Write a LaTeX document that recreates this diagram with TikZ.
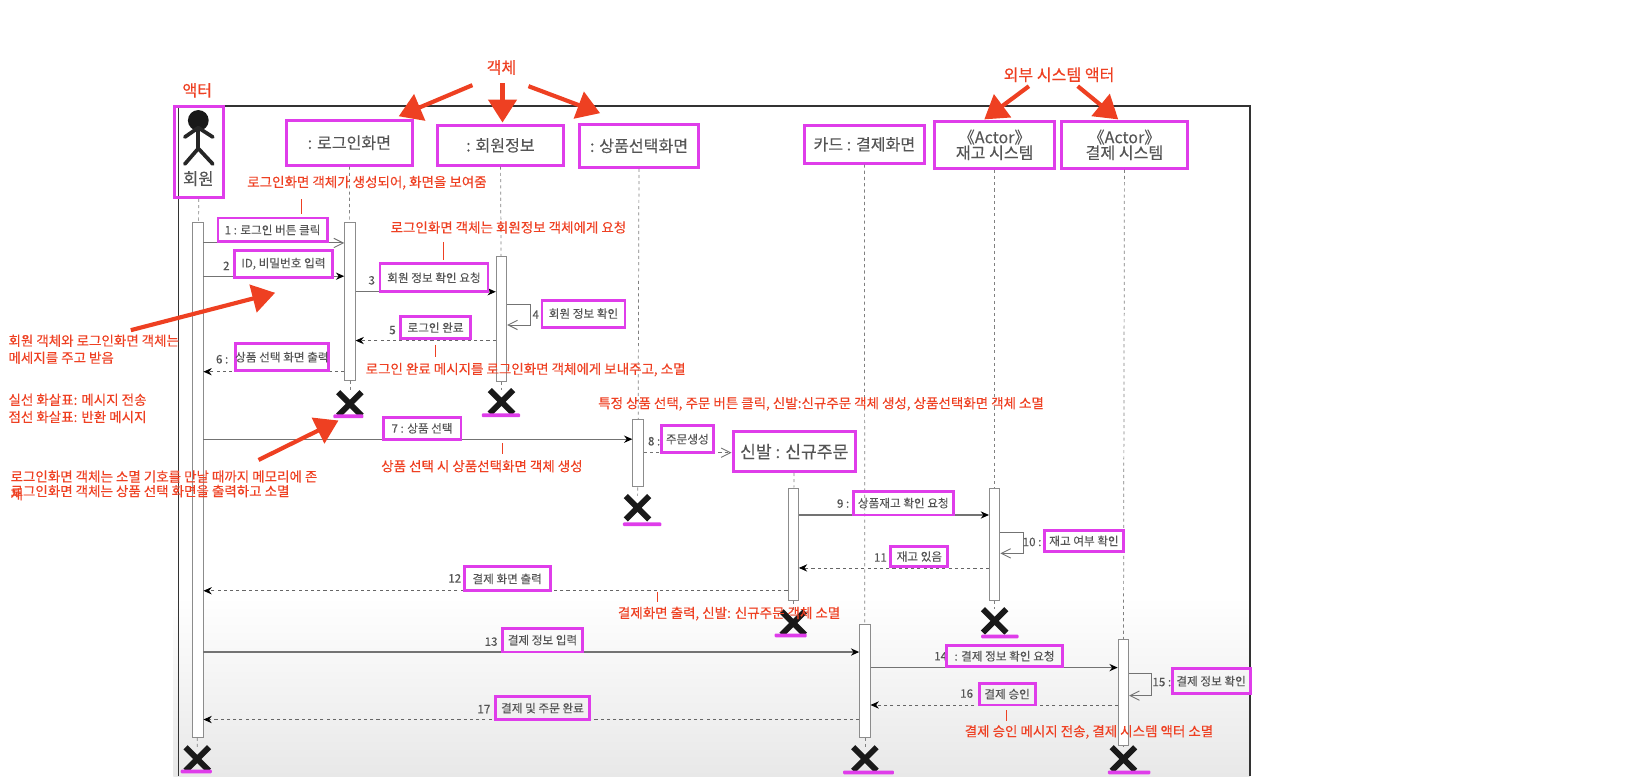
\documentclass[tikz,border=0pt]{standalone}
\usepackage{fontspec}
\usepackage{xcolor}
\usetikzlibrary{positioning, arrows.meta, shapes.misc}
\setmainfont{Noto Sans CJK KR}
\newfontfamily\redfont[FakeBold=0.25]{Noto Sans CJK KR}
\newfontfamily\umlfont[FakeBold=0.12]{Noto Sans CJK KR}

\definecolor{boxpink}{HTML}{DF3DEA}
\definecolor{notered}{HTML}{EE4022}
\definecolor{umlgray}{HTML}{555555}

\tikzset{
    headbox/.style={draw=boxpink, line width=2.9pt, text=umlgray, font=\umlfont\fontsize{15.5}{17}\selectfont, align=center, inner sep=0pt},
    msgbox/.style={draw=boxpink, line width=2.8pt, text=umlgray, font=\umlfont\fontsize{11.2}{13}\selectfont, inner sep=0pt},
    msgnum/.style={text=umlgray, font=\umlfont\fontsize{11.2}{13}\selectfont, inner sep=0pt},
    lifebar/.style={draw=black!45, fill=white, line width=.9pt, minimum width=10pt, inner sep=0pt},
    lifeline/.style={draw=black!50, dashed, line width=.7pt},
    msg/.style={draw=black!55, line width=1.1pt, -{Stealth[length=8pt,width=7pt,black]}},
    openmsg/.style={draw=black!55, line width=.9pt, -{Straight Barb[length=9pt,width=9pt]}},
    retmsg/.style={draw=black!60, dashed, line width=.8pt, -{Stealth[length=8pt,width=7pt,black]}},
    destroy/.style={cross out, draw=black!90, line width=5.6pt, minimum size=17pt, inner sep=0pt},
    killbar/.style={fill=boxpink, rounded corners=1pt, minimum height=3.6pt, inner sep=0pt},
    rednote/.style={text=notered, font=\redfont\fontsize{13}{16.5}\selectfont, inner sep=0pt, align=left},
    redtitle/.style={text=notered, font=\redfont\fontsize{15.5}{18}\selectfont, inner sep=0pt},
    redarrow/.style={draw=notered, line width=4pt, -{Triangle[length=22pt,width=27pt]}},
    redtick/.style={draw=notered, line width=.7pt},
    stick/.style={draw=black!85, line width=3.6pt, line cap=round, line join=round}
}

\begin{document}
\begin{tikzpicture}[x=1pt, y=-1pt]
    \useasboundingbox (0,0) rectangle (1568,747.4);

    % backdrop and frame
    \shade[top color=white, bottom color=black!9] (167,575) rectangle (1204,747.4);
    \draw[black!80, line width=1.4pt] (172,747.4) -- (172,102) -- (1204,102) -- (1204,747.4);

    % heads
    \node[headbox, minimum width=47, minimum height=87] (hactor) at (191.5,146.5) {};
    \node[circle, fill=black!90, minimum size=20pt, inner sep=0pt] (head) at (191,116) {};
    \draw[stick] (head) -- (191,143);
    \draw[stick] (178,132) -- (191,123) -- (205,132);
    \draw[stick] (178,158) -- (191,143) -- (205,158);
    \node[text=umlgray, font=\umlfont\fontsize{16}{17}\selectfont, inner sep=0pt] (tactor) at (191,172) {회원};
    \node[headbox, minimum width=121, minimum height=43] (hlogin) at (336.5,137.5) {: 로그인화면};
    \node[headbox, minimum width=122, minimum height=38] (hinfo) at (482,140) {: 회원정보};
    \node[headbox, minimum width=115, minimum height=41] (hproduct) at (615.5,140.5) {: 상품선택화면};
    \node[headbox, minimum width=115, minimum height=36] (hcard) at (832.5,139) {카드 : 결제화면};
    \node[headbox, minimum width=116, minimum height=45] (hstock) at (958,139.5) {《Actor》\\[-2pt]재고 시스템};
    \node[headbox, minimum width=122, minimum height=45] (hpay) at (1083,139.5) {《Actor》\\[-2pt]결제 시스템};
    \node[headbox, minimum width=118, minimum height=38, font=\umlfont\fontsize{16.5}{18}\selectfont] (horder) at (765,435) {신발 : 신규주문};

    % activation bars
    \node[lifebar, minimum height=496] (bactor) at (190.5,462) {};
    \node[lifebar, minimum height=152] (blogin) at (337,290) {};
    \node[lifebar, minimum height=120] (binfo) at (483,307) {};
    \node[lifebar, minimum height=65] (bproduct) at (614.5,436.5) {};
    \node[lifebar, minimum height=108] (border) at (764,524) {};
    \node[lifebar, minimum height=108] (bstock) at (958,524) {};
    \node[lifebar, minimum height=109] (bcard) at (833,655.5) {};
    \node[lifebar, minimum height=102] (bpay) at (1082,667) {};

    % end of life
    \node[destroy] (xlogin) at (337,389) {};
    \node[destroy] (xinfo) at (483,387) {};
    \node[destroy] (xproduct) at (614,489) {};
    \node[destroy] (xorder) at (764,600) {};
    \node[destroy] (xstock) at (958,598) {};
    \node[destroy] (xactor) at (190,731) {};
    \node[destroy] (xcard) at (833,731) {};
    \node[destroy] (xpay) at (1082,731) {};
    \node[killbar, minimum width=29] (ulogin) at (335.5,401) {};
    \node[killbar, minimum width=37] (uinfo) at (482.5,400) {};
    \node[killbar, minimum width=37] (uproduct) at (618.5,505) {};
    \node[killbar, minimum width=31] (uorder) at (761.5,612) {};
    \node[killbar, minimum width=36] (ustock) at (963,613) {};
    \node[killbar, minimum width=30] (uactor) at (189,743) {};
    \node[killbar, minimum width=49] (ucard) at (836.5,744) {};
    \node[killbar, minimum width=41] (upay) at (1087.5,744) {};

    % lifelines
    \draw[lifeline] (hactor) -- (bactor);
    \draw[lifeline] (bactor) -- (xactor);
    \draw[lifeline] (hlogin) -- (blogin);
    \draw[lifeline] (blogin) -- (xlogin);
    \draw[lifeline] (hinfo) -- (binfo);
    \draw[lifeline] (binfo) -- (xinfo);
    \draw[lifeline] (hproduct) -- (bproduct);
    \draw[lifeline] (bproduct) -- (xproduct);
    \draw[lifeline] (horder) -- (border);
    \draw[lifeline] (border) -- (xorder);
    \draw[lifeline] (hcard) -- (bcard);
    \draw[lifeline] (bcard) -- (xcard);
    \draw[lifeline] (hstock) -- (bstock);
    \draw[lifeline] (bstock) -- (xstock);
    \draw[lifeline] (hpay) -- (bpay);
    \draw[lifeline] (bpay) -- (xpay);

    % messages
    \draw[openmsg] (bactor.east |- 0,234) -- (blogin.west |- 0,234);
    \draw[msg] (bactor.east |- 0,266) -- (blogin.west |- 0,266);
    \draw[msg] (blogin.east |- 0,281) -- (binfo.west |- 0,281);
    \draw[openmsg] (binfo.east |- 0,293) -- ++(22,0) -- ++(0,20) -- (binfo.east |- 0,313);
    \draw[retmsg] (binfo.west |- 0,328) -- (blogin.east |- 0,328);
    \draw[retmsg] (blogin.west |- 0,358) -- (bactor.east |- 0,358);
    \draw[msg] (bactor.east |- 0,423) -- (bproduct.west |- 0,423);
    \draw[openmsg, dashed] (bproduct.east |- 0,436) -- (horder.west |- 0,436);
    \draw[msg] (border.east |- 0,496) -- (bstock.west |- 0,496);
    \draw[openmsg] (bstock.east |- 0,513) -- ++(22,0) -- ++(0,20) -- (bstock.east |- 0,533);
    \draw[retmsg] (bstock.west |- 0,547) -- (border.east |- 0,547);
    \draw[retmsg] (border.west |- 0,569) -- (bactor.east |- 0,569);
    \draw[msg] (bactor.east |- 0,628) -- (bcard.west |- 0,628);
    \draw[msg] (bcard.east |- 0,643) -- (bpay.west |- 0,643);
    \draw[openmsg] (bpay.east |- 0,649) -- ++(22,0) -- ++(0,21) -- (bpay.east |- 0,670);
    \draw[retmsg] (bpay.west |- 0,679) -- (bcard.east |- 0,679);
    \draw[retmsg] (bcard.west |- 0,693) -- (bactor.east |- 0,693);

    % message labels
    \node[msgbox, minimum width=105, minimum height=23] (m1) at (262.5,221.5) {1 : 로그인 버튼 클릭};
    \node[msgnum] (n2) at (218,256) {2};
    \node[msgbox, minimum width=94, minimum height=26] (m2) at (273,254) {ID, 비밀번호 입력};
    \node[msgnum] (n3) at (358,270) {3};
    \node[msgbox, minimum width=104, minimum height=27] (m3) at (418,267.5) {회원 정보 확인 요청};
    \node[msgnum] (n4) at (516,303) {4};
    \node[msgbox, minimum width=80, minimum height=26] (m4) at (562,302) {회원 정보 확인};
    \node[msgnum] (n5) at (378,318) {5};
    \node[msgbox, minimum width=67, minimum height=21] (m5) at (419.5,315.5) {로그인 완료};
    \node[msgnum] (n6) at (214,346) {6 :};
    \node[msgbox, minimum width=89, minimum height=26] (m6) at (271.5,344) {상품 선택 화면 출력};
    \node[msgbox, minimum width=75, minimum height=21] (m7) at (406.5,412.5) {7 : 상품 선택};
    \node[msgnum] (n8) at (630,425) {8 :};
    \node[msgbox, minimum width=50, minimum height=26] (m8) at (662,423) {주문생성};
    \node[msgnum] (n9) at (812,485) {9 :};
    \node[msgbox, minimum width=96, minimum height=23] (m9) at (870,484.5) {상품재고 확인 요청};
    \node[msgnum] (n10) at (994,522) {10 :};
    \node[msgbox, minimum width=76, minimum height=20] (m10) at (1044,521) {재고 여부 확인};
    \node[msgnum] (n11) at (848,537) {11};
    \node[msgbox, minimum width=55, minimum height=20] (m11) at (885.5,536) {재고 있음};
    \node[msgnum] (n12) at (438,557) {12};
    \node[msgbox, minimum width=83, minimum height=23] (m12) at (488.5,557.5) {결제 화면 출력};
    \node[msgnum] (n13) at (473,618) {13};
    \node[msgbox, minimum width=77, minimum height=23] (m13) at (522.5,616.5) {결제 정보 입력};
    \node[msgnum] (n14) at (906,632) {14};
    \node[msgbox, minimum width=111, minimum height=20] (m14) at (967.5,632) {: 결제 정보 확인 요청};
    \node[msgnum] (n15) at (1119,657) {15 :};
    \node[msgbox, minimum width=75, minimum height=24] (m15) at (1166.5,656) {결제 정보 확인};
    \node[msgnum] (n16) at (931,668) {16};
    \node[msgbox, minimum width=54, minimum height=21] (m16) at (970,668.5) {결제 승인};
    \node[msgnum] (n17) at (466,683) {17};
    \node[msgbox, minimum width=91, minimum height=22] (m17) at (522.5,682) {결제 및 주문 완료};

    % red titles and notes
    \node[redtitle] (tactorlbl) at (190,87) {액터};
    \node[redtitle] (tobject) at (483,65) {객체};
    \node[redtitle] (texternal) at (1020,72) {외부 시스템 액터};
    \node[rednote, anchor=west] (note1) at (238,176) {로그인화면 객체가 생성되어, 화면을 보여줌};
    \node[rednote, anchor=west] (note2) at (376,219) {로그인화면 객체는 회원정보 객체에게 요청};
    \node[rednote, anchor=north west] (note3) at (8,322) {회원 객체와 로그인화면 객체는\\메세지를 주고 받음};
    \node[rednote, anchor=west] (note4) at (352,356) {로그인 완료 메시지를 로그인화면 객체에게 보내주고, 소멸};
    \node[rednote, anchor=north west] (note5) at (8,379) {실선 화살표: 메시지 전송\\점선 화살표: 반환 메시지};
    \node[rednote, anchor=west] (note6) at (10,459) {로그인화면 객체는 소멸 기호를 만날 때까지 메모리에 존};
    \node[rednote, anchor=west] (note6b) at (10,476) {재};
    \node[rednote, anchor=west] (note7) at (10,473) {로그인화면 객체는 상품 선택 화면을 출력하고 소멸};
    \node[rednote, anchor=west] (note8) at (576,389) {특정 상품 선택, 주문 버튼 클릭, 신발:신규주문 객체 생성, 상품선택화면 객체 소멸};
    \node[rednote, anchor=west] (note9) at (367,449) {상품 선택 시 상품선택화면 객체 생성};
    \node[rednote, anchor=west] (note10) at (595,591) {결제화면 출력, 신발: 신규주문 객체 소멸};
    \node[rednote, anchor=west] (note11) at (929,705) {결제 승인 메시지 전송, 결제 시스템 액터 소멸};

    % ticks under the notes
    \coordinate (t1a) at (290,192);
    \coordinate (t1b) at (290,206);
    \coordinate (t2a) at (427,233);
    \coordinate (t2b) at (427,250);
    \coordinate (t4a) at (419,332);
    \coordinate (t4b) at (419,344);
    \coordinate (t9a) at (484,427);
    \coordinate (t9b) at (484,437);
    \coordinate (t10a) at (633,570);
    \coordinate (t10b) at (633,580);
    \coordinate (t11a) at (969,684);
    \coordinate (t11b) at (969,694);
    \draw[redtick] (t1a) -- (t1b);
    \draw[redtick] (t2a) -- (t2b);
    \draw[redtick] (t4a) -- (t4b);
    \draw[redtick] (t9a) -- (t9b);
    \draw[redtick] (t10a) -- (t10b);
    \draw[redtick] (t11a) -- (t11b);

    % big red arrows
    \coordinate (a1) at (455,82);
    \coordinate (a1e) at (384,112);
    \coordinate (a2) at (484,80);
    \coordinate (a2e) at (484,118);
    \coordinate (a3) at (509,83);
    \coordinate (a3e) at (578,109);
    \coordinate (a4) at (991,83);
    \coordinate (a4e) at (948,115);
    \coordinate (a5) at (1038,83);
    \coordinate (a5e) at (1077,115);
    \coordinate (a6) at (126,318);
    \coordinate (a6e) at (265,282);
    \coordinate (a7) at (249,443);
    \coordinate (a7e) at (326,405);
    \draw[redarrow] (a1) -- (a1e);
    \draw[redarrow] (a2) -- (a2e);
    \draw[redarrow] (a3) -- (a3e);
    \draw[redarrow] (a4) -- (a4e);
    \draw[redarrow] (a5) -- (a5e);
    \draw[redarrow] (a6) -- (a6e);
    \draw[redarrow] (a7) -- (a7e);
\end{tikzpicture}
\end{document}
